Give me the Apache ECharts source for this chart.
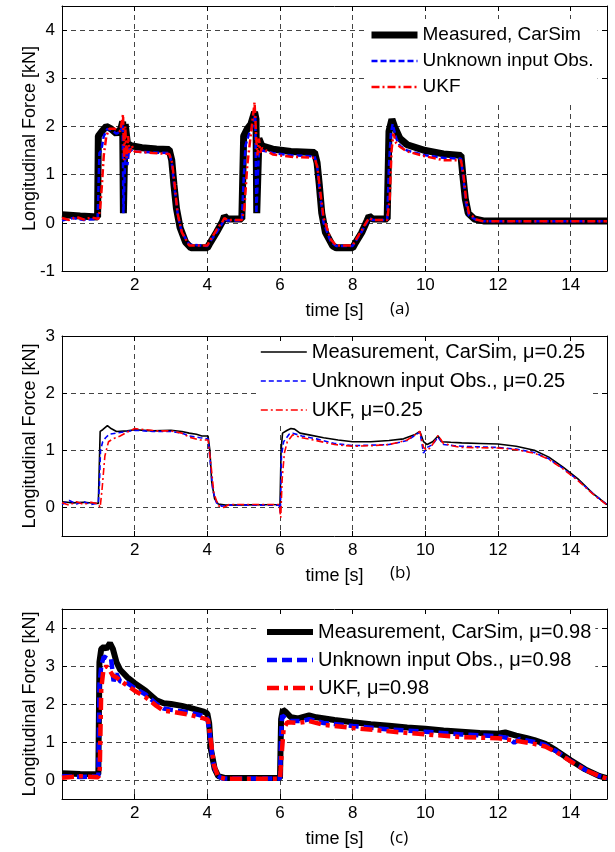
<!DOCTYPE html>
<html>
<head>
<meta charset="utf-8">
<script src="https://cdn.jsdelivr.net/npm/echarts@6/dist/echarts.min.js"></script>
<style>html,body{margin:0;padding:0;background:#fff}#c{width:615px;height:852px}</style>
</head>
<body>
<div id="c"></div>
<script>
// ---------- data (time [s], force [kN]) ----------
const xTicks = [2, 4, 6, 8, 10, 12, 14];
const yTicksA = [-1, 0, 1, 2, 3, 4];
const yTicksB = [0, 1, 2, 3];
const yTicksC = [0, 1, 2, 3, 4];
const namesA = ['Measured, CarSim', 'Unknown input Obs.', 'UKF'];
const namesB = ['Measurement, CarSim, \u03bc=0.25', 'Unknown input Obs., \u03bc=0.25', 'UKF, \u03bc=0.25'];
const namesC = ['Measurement, CarSim, \u03bc=0.98', 'Unknown input Obs., \u03bc=0.98', 'UKF, \u03bc=0.98'];

const aMeas = [[0,0.17],[0.5,0.14],[0.98,0.12],[1.0,1.8],[1.1,1.9],[1.22,2.0],[1.35,1.95],[1.5,1.85],[1.62,1.95],[1.67,2.1],[1.69,0.2],[1.72,0.2],[1.74,2.05],[1.8,1.65],[1.9,1.6],[2.2,1.56],[2.6,1.53],[2.95,1.52],[3.02,1.3],[3.08,0.8],[3.15,0.3],[3.25,-0.1],[3.4,-0.4],[3.55,-0.52],[4.0,-0.52],[4.05,-0.45],[4.25,-0.2],[4.42,0.03],[4.47,0.14],[4.55,0.08],[4.95,0.08],[5.0,1.8],[5.1,1.95],[5.2,2.05],[5.3,2.3],[5.34,2.15],[5.36,0.2],[5.39,0.2],[5.42,1.75],[5.5,1.6],[5.8,1.53],[6.3,1.48],[6.95,1.46],[7.02,1.25],[7.08,0.8],[7.15,0.2],[7.25,-0.2],[7.45,-0.48],[7.55,-0.52],[8.0,-0.52],[8.05,-0.45],[8.25,-0.2],[8.4,0.05],[8.45,0.14],[8.55,0.08],[8.95,0.08],[9.0,1.9],[9.08,2.15],[9.15,2.0],[9.3,1.75],[9.5,1.62],[10.0,1.5],[10.5,1.43],[10.98,1.4],[11.03,1.0],[11.1,0.5],[11.18,0.2],[11.35,0.08],[11.6,0.04],[15,0.04]];
const aObs = [[0,0.05],[0.3,0.1],[0.6,0.06],[0.98,0.08],[1.0,0.6],[1.03,1.45],[1.08,1.5],[1.15,1.8],[1.25,1.95],[1.35,1.93],[1.5,1.85],[1.62,1.9],[1.67,2.05],[1.69,0.2],[1.72,0.2],[1.75,1.6],[1.8,1.2],[1.85,1.55],[1.95,1.48],[2.5,1.46],[2.95,1.45],[3.02,1.25],[3.1,0.7],[3.2,0.1],[3.3,-0.2],[3.5,-0.45],[4.0,-0.48],[4.05,-0.42],[4.25,-0.2],[4.42,0.0],[4.47,0.08],[4.55,0.05],[4.95,0.05],[5.0,0.9],[5.05,1.6],[5.15,1.85],[5.25,2.0],[5.32,2.25],[5.35,0.2],[5.38,0.2],[5.42,1.5],[5.5,1.5],[5.8,1.45],[6.3,1.4],[6.95,1.38],[7.02,1.2],[7.1,0.6],[7.2,0.0],[7.4,-0.4],[7.55,-0.48],[8.0,-0.48],[8.05,-0.42],[8.25,-0.18],[8.4,0.02],[8.45,0.1],[8.55,0.06],[8.95,0.06],[9.0,1.2],[9.05,1.85],[9.1,2.05],[9.2,1.75],[9.3,1.6],[9.5,1.5],[10.0,1.4],[10.5,1.35],[10.98,1.33],[11.05,0.9],[11.12,0.4],[11.2,0.15],[11.4,0.06],[11.6,0.03],[15,0.03]];
const aUkf = [[0,0.1],[0.2,0.06],[0.4,0.12],[0.6,0.07],[0.8,0.11],[1.0,0.08],[1.05,0.3],[1.1,0.8],[1.15,1.4],[1.22,1.8],[1.3,1.95],[1.45,1.95],[1.6,1.9],[1.68,2.25],[1.71,1.3],[1.74,2.0],[1.78,1.35],[1.82,1.8],[1.86,1.45],[1.92,1.6],[2.0,1.48],[2.5,1.45],[2.95,1.43],[3.03,1.25],[3.1,0.8],[3.18,0.2],[3.3,-0.2],[3.5,-0.47],[4.0,-0.47],[4.05,-0.4],[4.25,-0.15],[4.42,0.03],[4.47,0.1],[4.55,0.06],[4.95,0.06],[5.02,0.3],[5.1,1.2],[5.2,1.85],[5.3,2.5],[5.35,1.7],[5.38,1.4],[5.42,1.75],[5.46,1.45],[5.5,1.55],[5.8,1.42],[6.3,1.37],[6.95,1.35],[7.03,1.15],[7.1,0.7],[7.2,0.1],[7.4,-0.35],[7.55,-0.47],[8.0,-0.47],[8.05,-0.4],[8.25,-0.15],[8.4,0.04],[8.45,0.1],[8.55,0.06],[8.95,0.06],[9.02,0.5],[9.07,1.5],[9.12,1.85],[9.2,1.65],[9.3,1.58],[9.5,1.48],[10.0,1.38],[10.5,1.3],[10.98,1.3],[11.05,1.0],[11.12,0.5],[11.2,0.2],[11.4,0.07],[11.6,0.03],[15,0.03]];

const bMeas = [[0,0.1],[0.3,0.08],[0.6,0.09],[1.0,0.07],[1.05,1.33],[1.12,1.36],[1.25,1.43],[1.35,1.38],[1.5,1.33],[1.8,1.34],[2.0,1.36],[2.5,1.34],[3.0,1.35],[3.3,1.33],[3.5,1.3],[3.7,1.28],[3.85,1.25],[4.02,1.25],[4.07,1.0],[4.12,0.45],[4.2,0.15],[4.3,0.06],[4.5,0.04],[6.0,0.05],[6.03,1.0],[6.07,1.3],[6.2,1.35],[6.3,1.38],[6.4,1.37],[6.55,1.3],[6.8,1.27],[7.2,1.22],[7.6,1.18],[8.0,1.15],[8.5,1.15],[9.0,1.17],[9.4,1.2],[9.7,1.27],[9.85,1.33],[9.95,1.15],[10.05,1.1],[10.2,1.15],[10.35,1.25],[10.45,1.15],[10.7,1.14],[11.0,1.13],[11.5,1.12],[12.0,1.11],[12.5,1.07],[13.0,1.0],[13.4,0.88],[13.8,0.7],[14.2,0.5],[14.6,0.25],[15.0,0.05]];
const bObs = [[0,0.05],[0.2,0.12],[0.4,0.06],[0.6,0.1],[0.8,0.05],[1.0,0.08],[1.03,0.4],[1.06,1.0],[1.12,1.15],[1.2,1.22],[1.3,1.28],[1.5,1.3],[1.8,1.33],[2.0,1.35],[2.5,1.33],[3.0,1.33],[3.3,1.3],[3.5,1.25],[3.8,1.22],[4.02,1.2],[4.08,0.8],[4.15,0.3],[4.25,0.08],[4.4,0.02],[4.6,0.04],[5.98,0.04],[6.01,-0.1],[6.04,0.9],[6.1,1.15],[6.25,1.28],[6.35,1.3],[6.6,1.25],[7.0,1.2],[7.5,1.12],[8.0,1.08],[8.5,1.09],[9.0,1.1],[9.5,1.17],[9.85,1.32],[9.95,0.95],[10.05,1.05],[10.2,1.1],[10.35,1.23],[10.5,1.1],[10.8,1.08],[11.0,1.07],[12.0,1.05],[12.5,1.02],[13.0,0.96],[13.4,0.85],[13.8,0.68],[14.2,0.48],[14.6,0.25],[15.0,0.05]];
const bUkf = [[0,0.08],[0.2,0.04],[0.4,0.1],[0.6,0.05],[0.8,0.09],[1.0,0.06],[1.05,0.0],[1.1,0.3],[1.18,0.9],[1.28,1.15],[1.4,1.2],[1.6,1.25],[1.8,1.32],[2.0,1.38],[2.3,1.36],[2.6,1.34],[3.0,1.34],[3.3,1.3],[3.5,1.23],[3.8,1.18],[4.02,1.18],[4.1,0.75],[4.18,0.25],[4.3,0.03],[4.45,0.0],[4.6,0.05],[5.98,0.05],[6.02,-0.18],[6.06,0.5],[6.12,0.95],[6.2,1.15],[6.35,1.27],[6.6,1.22],[7.0,1.17],[7.5,1.1],[8.0,1.07],[8.5,1.08],[9.0,1.1],[9.5,1.18],[9.85,1.33],[9.95,1.05],[10.05,1.0],[10.15,1.05],[10.35,1.26],[10.5,1.12],[10.8,1.07],[11.0,1.05],[12.0,1.04],[12.5,1.01],[13.0,0.95],[13.4,0.84],[13.8,0.67],[14.2,0.47],[14.6,0.24],[15.0,0.04]];

const cMeas = [[0,0.18],[0.5,0.16],[1.0,0.15],[1.03,3.1],[1.08,3.45],[1.15,3.5],[1.22,3.45],[1.32,3.6],[1.4,3.45],[1.5,3.1],[1.6,2.9],[1.8,2.7],[2.0,2.55],[2.3,2.35],[2.6,2.1],[2.8,2.02],[3.0,2.0],[3.3,1.95],[3.6,1.88],[3.9,1.8],[4.0,1.75],[4.05,1.5],[4.1,0.8],[4.2,0.3],[4.3,0.1],[4.5,0.05],[6.0,0.05],[6.03,1.6],[6.08,1.85],[6.15,1.8],[6.3,1.65],[6.5,1.62],[6.8,1.7],[7.0,1.65],[7.5,1.58],[8.0,1.52],[8.5,1.47],[9.0,1.43],[9.5,1.38],[10.0,1.35],[10.5,1.3],[11.0,1.27],[11.5,1.24],[12.0,1.22],[12.2,1.25],[12.5,1.17],[12.8,1.1],[13.0,1.05],[13.3,0.95],[13.6,0.78],[14.0,0.52],[14.4,0.28],[14.8,0.1],[15.0,0.05]];
const cObs = [[0,0.1],[0.5,0.08],[1.0,0.1],[1.03,2.5],[1.08,3.0],[1.15,3.25],[1.25,3.2],[1.35,3.2],[1.42,2.6],[1.5,2.8],[1.6,2.6],[1.8,2.55],[2.0,2.42],[2.3,2.25],[2.6,2.0],[2.8,1.88],[3.0,1.85],[3.5,1.78],[3.9,1.68],[4.0,1.63],[4.07,1.2],[4.15,0.5],[4.25,0.15],[4.4,0.04],[6.0,0.04],[6.03,1.2],[6.06,1.7],[6.15,1.62],[6.3,1.55],[6.6,1.55],[6.8,1.6],[7.2,1.5],[8.0,1.42],[9.0,1.33],[10.0,1.27],[11.0,1.2],[12.0,1.15],[12.3,1.1],[12.45,0.98],[12.6,1.08],[13.0,1.0],[13.3,0.92],[13.6,0.76],[14.0,0.5],[14.4,0.27],[14.8,0.1],[15.0,0.04]];
const cUkf = [[0,0.06],[0.5,0.1],[1.0,0.07],[1.04,0.3],[1.08,2.4],[1.14,2.9],[1.22,3.0],[1.3,2.9],[1.4,2.75],[1.5,2.7],[1.7,2.55],[2.0,2.35],[2.3,2.18],[2.6,1.95],[2.8,1.82],[3.0,1.8],[3.5,1.72],[3.9,1.62],[4.02,1.58],[4.1,1.0],[4.18,0.4],[4.3,0.08],[4.5,0.03],[6.0,0.03],[6.04,0.6],[6.1,1.35],[6.2,1.52],[6.5,1.5],[6.8,1.55],[7.2,1.45],[8.0,1.37],[9.0,1.28],[10.0,1.2],[11.0,1.13],[12.0,1.1],[12.5,1.03],[13.0,0.95],[13.3,0.88],[13.6,0.74],[14.0,0.49],[14.4,0.26],[14.8,0.1],[15.0,0.04]];

const yRanges = [[-1, 4.5], [-0.5, 3], [-0.5, 4.5]];
const yTicks = [yTicksA, yTicksB, yTicksC];
const panelTags = ['(a)', '(b)', '(c)'];

// ---------- layout ----------
const FONT = 'Liberation Sans';
const grids = [
  {left: 62, width: 545, top: 6, height: 265},
  {left: 62, width: 545, top: 336, height: 200},
  {left: 62, width: 545, top: 609, height: 190}
];
const tagTop = [301, 565, 830];
const legendFont = [19, 20, 20];

const chart = echarts.init(document.getElementById('c'), null, {renderer: 'canvas'});
const xAxis = [], yAxis = [];
const gridLine = {show: true, lineStyle: {color: '#444', type: [5, 4], width: 1}};
grids.forEach((g, i) => {
  xAxis.push({
    type: 'value', gridIndex: i, min: 0, max: 15,
    name: 'time [s]', nameLocation: 'middle', nameGap: 31,
    nameTextStyle: {fontFamily: FONT, fontSize: 18, color: '#000'},
    axisLine: {show: true, onZero: false, lineStyle: {color: '#000', width: 1}},
    axisTick: {show: true, inside: true, length: 5, lineStyle: {color: '#000'}, customValues: xTicks},
    axisLabel: {fontFamily: FONT, fontSize: 17, color: '#000', margin: 6, customValues: xTicks},
    splitLine: gridLine
  });
  yAxis.push({
    type: 'value', gridIndex: i, min: yRanges[i][0], max: yRanges[i][1],
    name: 'Longitudinal Force [kN]', nameLocation: 'middle', nameRotate: 90, nameGap: 23,
    nameMoveOverlap: false,
    nameTextStyle: {fontFamily: FONT, fontSize: 18, color: '#000'},
    axisLine: {show: true, onZero: false, lineStyle: {color: '#000', width: 1}},
    axisTick: {show: true, inside: true, length: 5, lineStyle: {color: '#000'}, customValues: yTicks[i]},
    axisLabel: {fontFamily: FONT, fontSize: 17, color: '#000', margin: 7, customValues: yTicks[i],
      showMaxLabel: true, showMinLabel: true, hideOverlap: false},
    splitLine: gridLine
  });
});
grids.forEach((g, i) => {
  xAxis.push({
    type: 'value', gridIndex: i, min: 0, max: 15, position: 'top', z: 10,
    axisLine: {show: true, onZero: false, lineStyle: {color: '#000', width: 1}},
    axisTick: {show: true, inside: true, length: 5, lineStyle: {color: '#000'}, customValues: xTicks},
    axisLabel: {show: false}, splitLine: {show: false}
  });
  yAxis.push({
    type: 'value', gridIndex: i, min: yRanges[i][0], max: yRanges[i][1], position: 'right', z: 10,
    axisLine: {show: true, onZero: false, lineStyle: {color: '#000', width: 1}},
    axisTick: {show: true, inside: true, length: 5, lineStyle: {color: '#000'}, customValues: yTicks[i]},
    axisLabel: {show: false}, splitLine: {show: false}
  });
});

function line(name, data, idx, color, width, type) {
  return {
    type: 'line', name, data, xAxisIndex: idx, yAxisIndex: idx,
    showSymbol: false, symbol: 'none', animation: false, smooth: false, clip: true,
    lineStyle: {color, width, type}, itemStyle: {color}
  };
}
const series = [
  line(namesA[0], aMeas, 0, '#000', 7, 'solid'),
  line(namesA[1], aObs, 0, '#0000ff', 2.5, [6, 3]),
  line(namesA[2], aUkf, 0, '#ff0000', 2.5, [8, 3, 2, 3]),
  line(namesB[0], bMeas, 1, '#000', 1.6, 'solid'),
  line(namesB[1], bObs, 1, '#0000ff', 1.6, [5, 3]),
  line(namesB[2], bUkf, 1, '#ff0000', 1.6, [7, 3, 2, 3]),
  line(namesC[0], cMeas, 2, '#000', 6, 'solid'),
  line(namesC[1], cObs, 2, '#0000ff', 4.5, [10, 5]),
  line(namesC[2], cUkf, 2, '#ff0000', 4.5, [12, 5, 4, 5])
];

function legend(names, left, top, gap, fs, lw) {
  return {
    data: names, orient: 'vertical', left, top, itemWidth: 46, itemHeight: 2, itemGap: gap,
    padding: [6, 4, 6, 4], backgroundColor: '#fff', selectedMode: false, z: 5,
    itemStyle: {opacity: 0},
    lineStyle: {width: 'inherit', type: 'inherit'},
    textStyle: {fontFamily: FONT, fontSize: fs, color: '#000', lineHeight: 20}
  };
}

chart.setOption({
  backgroundColor: '#fff',
  animation: false,
  grid: grids,
  xAxis, yAxis, series,
  legend: [
    legend(namesA, 364, 19, 6, legendFont[0]),
    legend(namesB, 256, 336, 9, legendFont[1]),
    legend(namesC, 260, 616, 8, legendFont[2])
  ],
  graphic: panelTags.map((t, i) => ({
    type: 'text', left: 390, top: tagTop[i],
    style: {text: t, fontFamily: 'Open Sans', fontSize: 17, fill: '#000'}
  }))
});
</script>
</body>
</html>
